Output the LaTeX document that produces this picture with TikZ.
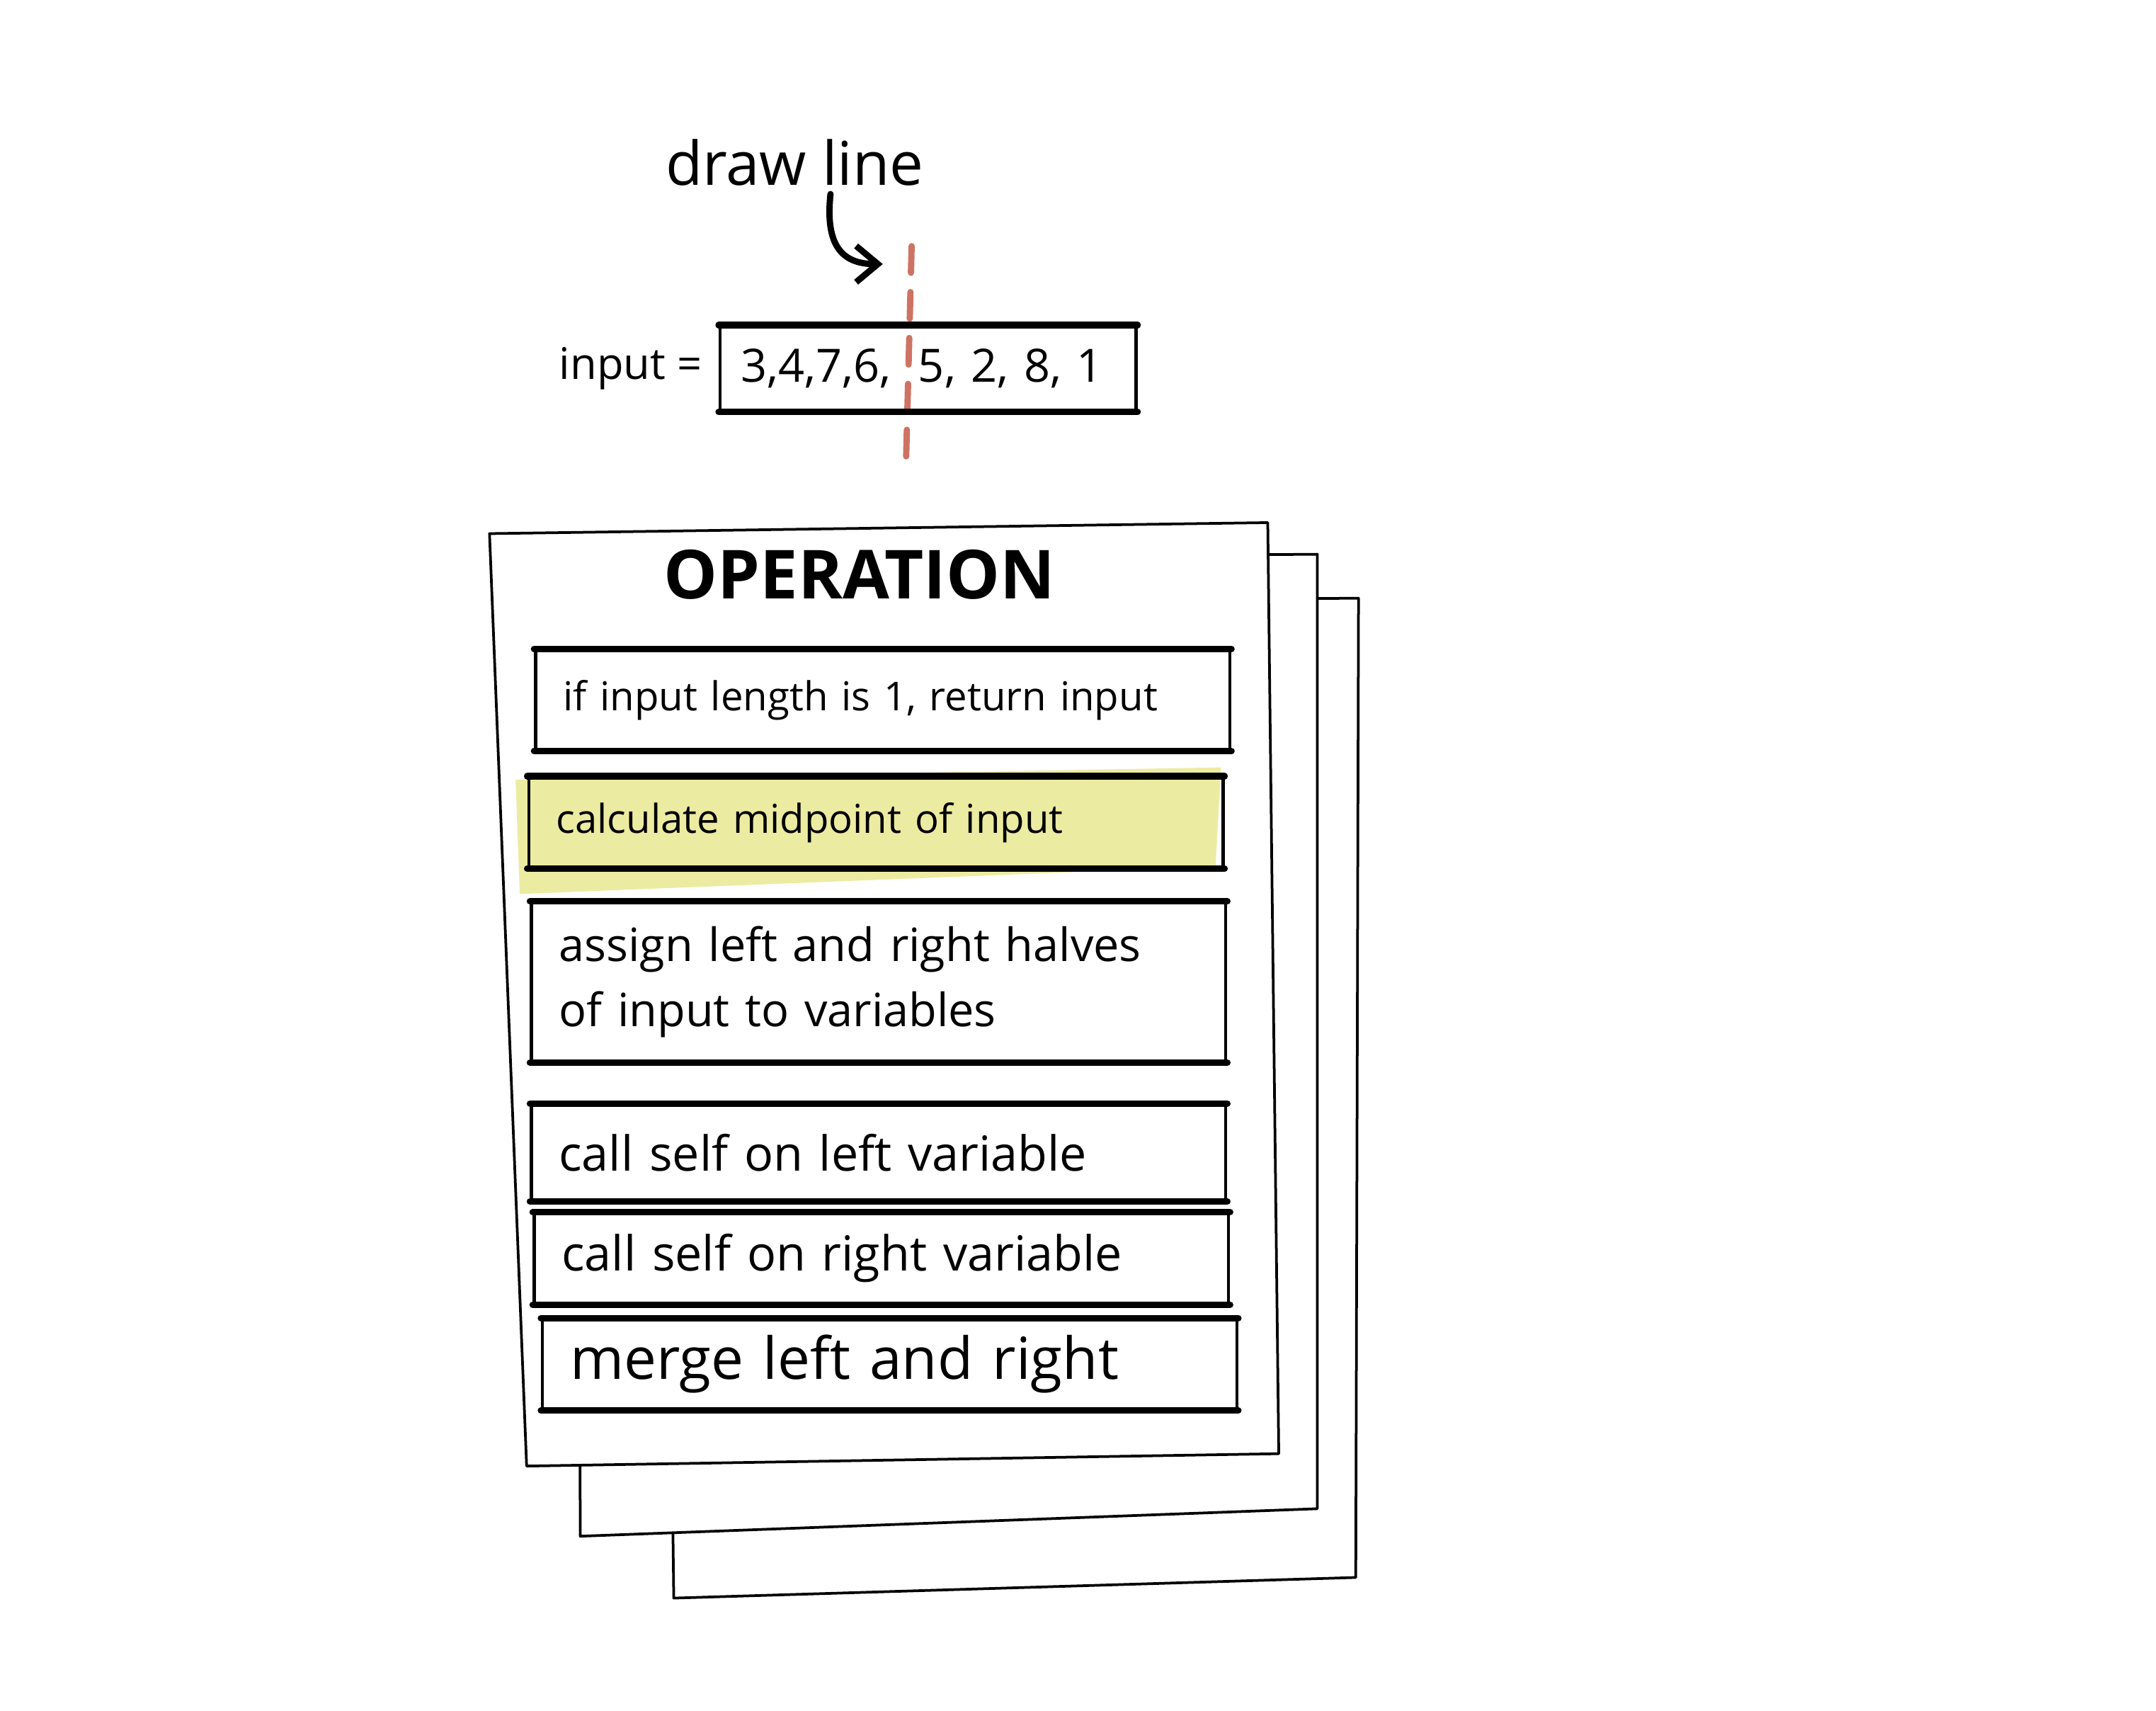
\documentclass[tikz,border=0pt]{standalone}
\usepackage{fontspec}
\setmainfont{Open Sans}
\usetikzlibrary{positioning,arrows.meta}
\definecolor{cutred}{HTML}{CD7363}
\definecolor{marker}{HTML}{ECEBA2}

\begin{document}
\begin{tikzpicture}[
    x=0.02cm, y=-0.02cm,
    sheet/.style={draw, fill=white, line width=1.1pt, line join=round},
    stepbox/.style={draw, line width=1.3pt, text width=9.3cm, inner xsep=0.4cm, align=left,
        font=\fontsize{17}{27}\selectfont,
        append after command={(\tikzlastnode.north west) edge[line width=2.7pt, line cap=round] (\tikzlastnode.north east)
            (\tikzlastnode.south west) edge[line width=2.7pt, line cap=round] (\tikzlastnode.south east)}},
    note/.style={font=\fontsize{25}{30}\selectfont}
]
    \useasboundingbox (0,0) rectangle (1568,1244);

    % 提示
    \node[note] (hint) at (578,118) {draw line};
    \coordinate (tip) at (642,192);
    \draw[line width=2.6pt, line cap=round, -{Straight Barb[length=9pt, width=15pt, line width=2.6pt]}]
        ([xshift=0.52cm]hint.south) .. controls (600,178) and (612,192) .. (tip);

    % 切分线
    \coordinate (cuttop) at (663,179);
    \coordinate (cutbot) at (659,333);
    \draw[cutred, line width=2.6pt, line cap=round, dash pattern=on 11pt off 8pt] (cuttop) -- (cutbot);

    % 输入数组
    \node[stepbox, text width=5.45cm, inner xsep=0.3cm, minimum height=1.22cm,
        font=\fontsize{19}{23}\selectfont] (arr) at (675,268) {3,4,7,6,\hspace{0.4cm}5, 2, 8, 1};
    \node[note, font=\fontsize{18}{22}\selectfont, left=0.12cm of arr] (inp) {input =};

    % 纸张
    \draw[sheet] (481,437) -- (988,435) -- (986,1147) -- (490,1162) -- cycle;
    \draw[sheet] (420,407) -- (958,403) -- (958,1097) -- (422,1117) -- cycle;
    \draw[sheet] (356,388) -- (922,380) -- (930,1057) -- (383,1066) -- cycle;

    % 标题
    \node[font=\fontsize{28}{32}\selectfont\bfseries] (title) at (625,418) {OPERATION};

    % 步骤
    \fill[marker] (375,567) -- (888,558) -- (884,630) -- (378,650) -- cycle;
    \node[stepbox, minimum height=1.44cm, font=\fontsize{16.5}{24}\selectfont] (s1) at (642,509) {if input length is 1, return input};
    \node[stepbox, minimum height=1.3cm, font=\fontsize{16.5}{24}\selectfont] (s2) at (637,598) {calculate midpoint of input};
    \node[stepbox, minimum height=2.3cm, font=\fontsize{19}{27}\selectfont] (s3) at (639,714) {assign left and right halves\\of input to variables};
    \node[stepbox, minimum height=1.38cm, font=\fontsize{20}{24}\selectfont] (s4) at (639,838) {call self on left variable};
    \node[stepbox, minimum height=1.3cm, font=\fontsize{20}{24}\selectfont] (s5) at (641,915) {call self on right variable};
    \node[stepbox, minimum height=1.3cm, font=\fontsize{24}{28}\selectfont] (s6) at (647,992) {merge left and right};
\end{tikzpicture}
\end{document}
